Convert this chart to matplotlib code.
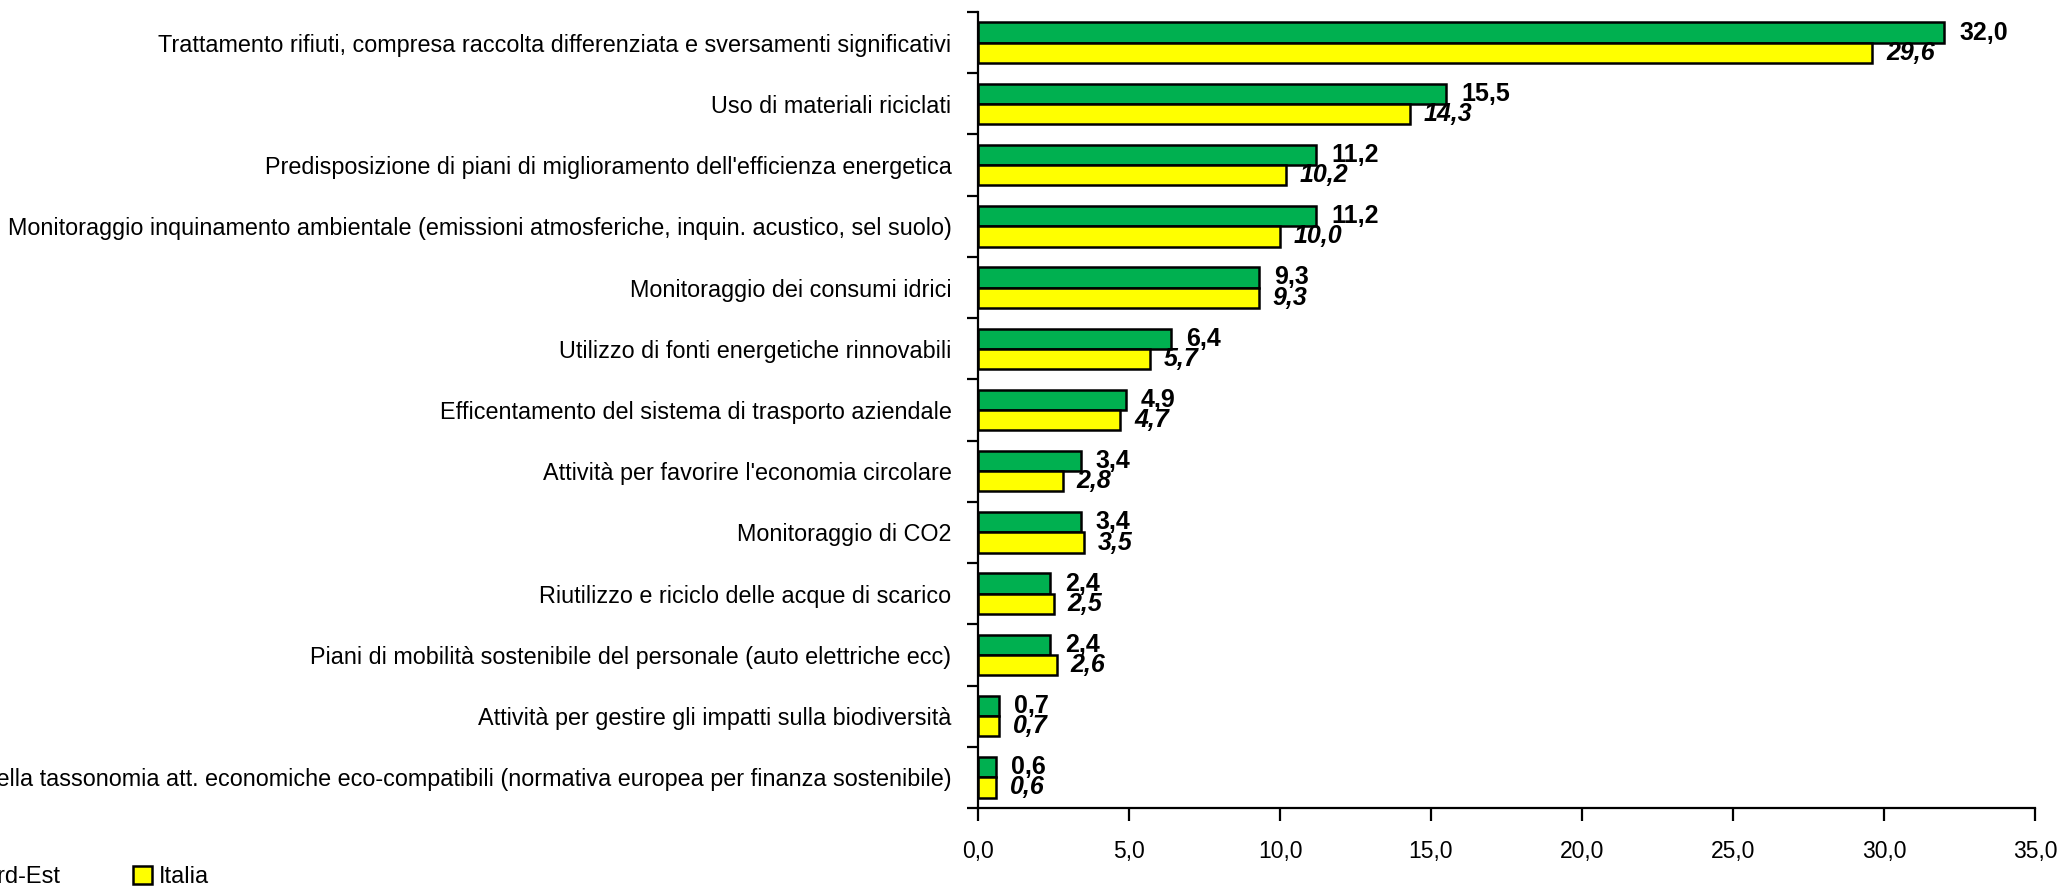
import matplotlib
matplotlib.use('Agg')
import matplotlib.pyplot as plt
from matplotlib import font_manager
from matplotlib.patches import Patch
import numpy as np

categories = [
    "Trattamento rifiuti, compresa raccolta differenziata e sversamenti significativi",
    "Uso di materiali riciclati",
    "Predisposizione di piani di miglioramento dell'efficienza energetica",
    "Monitoraggio inquinamento ambientale (emissioni atmosferiche, inquin. acustico, sel suolo)",
    "Monitoraggio dei consumi idrici",
    "Utilizzo di fonti energetiche rinnovabili",
    "Efficentamento del sistema di trasporto aziendale",
    "Attività per favorire l'economia circolare",
    "Monitoraggio di CO2",
    "Riutilizzo e riciclo delle acque di scarico",
    "Piani di mobilità sostenibile del personale (auto elettriche ecc)",
    "Attività per gestire gli impatti sulla biodiversità",
    "Applicazione della tassonomia att. economiche eco-compatibili (normativa europea per finanza sostenibile)",
]
nord_est = [32.0, 15.5, 11.2, 11.2, 9.3, 6.4, 4.9, 3.4, 3.4, 2.4, 2.4, 0.7, 0.6]
italia = [29.6, 14.3, 10.2, 10.0, 9.3, 5.7, 4.7, 2.8, 3.5, 2.5, 2.6, 0.7, 0.6]
series_names = ["Nord-Est", "Italia"]
xticks = [0, 5, 10, 15, 20, 25, 30, 35]

names = {f.name for f in font_manager.fontManager.ttflist}
base_font = 'Liberation Sans' if 'Liberation Sans' in names else 'DejaVu Sans'
narrow_font = 'Liberation Sans Narrow' if 'Liberation Sans Narrow' in names else base_font
plt.rcParams['font.family'] = base_font

W, H = 2062, 888
fig = plt.figure(figsize=(W / 100, H / 100), dpi=100)
ax = fig.add_axes([978 / W, 1 - 808 / H, 1057 / W, (808 - 12) / H])

green = '#00B050'
yellow = '#FFFF00'
h = 0.33
y = np.arange(len(categories))
ax.barh(y - h / 2, nord_est, height=h, color=green, edgecolor='black', linewidth=1.8)
ax.barh(y + h / 2, italia, height=h, color=yellow, edgecolor='black', linewidth=1.8)

for i in range(len(categories)):
    ax.annotate(f"{nord_est[i]:.1f}".replace('.', ','), (nord_est[i], y[i] - h / 2),
                xytext=(15, 0), textcoords='offset pixels', va='center', ha='left',
                fontsize=18, fontweight='bold', family=narrow_font)
    ax.annotate(f"{italia[i]:.1f}".replace('.', ','), (italia[i], y[i] + h / 2),
                xytext=(14, 0), textcoords='offset pixels', va='center', ha='left',
                fontsize=18, fontweight='bold', style='italic', family=narrow_font)

ax.set_xlim(0, 35)
ax.set_ylim(len(categories) - 0.5, -0.5)
ax.set_xticks(xticks)
ax.set_xticklabels([f"{v:.1f}".replace('.', ',') for v in xticks], fontsize=16.5)
ax.set_yticks(y)
ax.set_yticklabels(categories, fontsize=16.8)
ax.tick_params(axis='y', which='major', length=0, pad=19)
ax.set_yticks(np.arange(len(categories) + 1) - 0.5, minor=True)
ax.tick_params(axis='y', which='minor', length=8, width=1.6, direction='out')
ax.tick_params(axis='x', length=9, width=1.6, direction='out', pad=14)
for s in ['top', 'right']:
    ax.spines[s].set_visible(False)
for s in ['left', 'bottom']:
    ax.spines[s].set_linewidth(1.6)

handles = [Patch(facecolor=green, edgecolor='black', linewidth=1.8),
           Patch(facecolor=yellow, edgecolor='black', linewidth=1.8)]
fig.legend(handles, series_names, loc='center left', bbox_to_anchor=(-59 / W, 1 - 877 / H),
           ncol=2, frameon=False, fontsize=17, handlelength=0.8, handleheight=0.8,
           handletextpad=0.3, columnspacing=3.1, borderpad=0, borderaxespad=0)

fig.savefig('out.png', dpi=100)
